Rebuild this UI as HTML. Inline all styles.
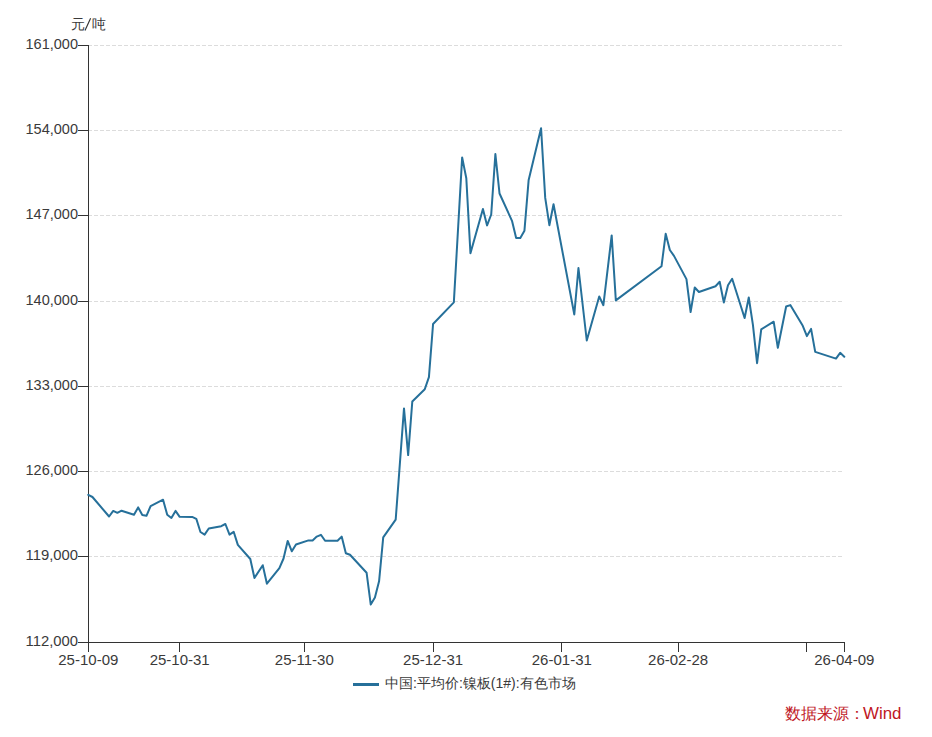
<!DOCTYPE html>
<html><head><meta charset="utf-8"><style>
html,body{margin:0;padding:0;background:#fff;width:932px;height:737px;overflow:hidden}
svg{display:block}
text{font-family:"Liberation Sans",sans-serif;fill:#3a3a3a}
.g{stroke:#dcdcdc;stroke-width:1;stroke-dasharray:4 2}
.a{stroke:#333;stroke-width:1}
.yl{font-size:15px;text-anchor:end}
.xl{font-size:15px;text-anchor:middle}
.unit{font-size:14px}
.leg{font-size:14px}
.src{font-size:16px;fill:#c0171f}
</style></head><body>
<svg width="932" height="737" viewBox="0 0 932 737">
<line x1="88" x2="844" y1="45.5" y2="45.5" class="g"/><line x1="88" x2="844" y1="130.5" y2="130.5" class="g"/><line x1="88" x2="844" y1="215.5" y2="215.5" class="g"/><line x1="88" x2="844" y1="301.5" y2="301.5" class="g"/><line x1="88" x2="844" y1="386.5" y2="386.5" class="g"/><line x1="88" x2="844" y1="471.5" y2="471.5" class="g"/><line x1="88" x2="844" y1="556.5" y2="556.5" class="g"/>
<line x1="88.5" x2="88.5" y1="45" y2="642.5" class="a"/>
<line x1="88" x2="845" y1="642.5" y2="642.5" class="a"/>
<line x1="78" x2="88.5" y1="45.5" y2="45.5" class="a"/><line x1="78" x2="88.5" y1="130.5" y2="130.5" class="a"/><line x1="78" x2="88.5" y1="215.5" y2="215.5" class="a"/><line x1="78" x2="88.5" y1="301.5" y2="301.5" class="a"/><line x1="78" x2="88.5" y1="386.5" y2="386.5" class="a"/><line x1="78" x2="88.5" y1="471.5" y2="471.5" class="a"/><line x1="78" x2="88.5" y1="556.5" y2="556.5" class="a"/><line x1="78" x2="88.5" y1="642.5" y2="642.5" class="a"/><line x1="88.5" x2="88.5" y1="642" y2="652" class="a"/><line x1="179.5" x2="179.5" y1="642" y2="652" class="a"/><line x1="304.5" x2="304.5" y1="642" y2="652" class="a"/><line x1="433.5" x2="433.5" y1="642" y2="652" class="a"/><line x1="561.5" x2="561.5" y1="642" y2="652" class="a"/><line x1="678.5" x2="678.5" y1="642" y2="652" class="a"/><line x1="806.5" x2="806.5" y1="642" y2="652" class="a"/><line x1="844.5" x2="844.5" y1="642" y2="652" class="a"/><text x="78" y="49.0" class="yl" textLength="52.5" lengthAdjust="spacingAndGlyphs">161,000</text><text x="78" y="134.0" class="yl" textLength="52.5" lengthAdjust="spacingAndGlyphs">154,000</text><text x="78" y="219.0" class="yl" textLength="52.5" lengthAdjust="spacingAndGlyphs">147,000</text><text x="78" y="305.0" class="yl" textLength="52.5" lengthAdjust="spacingAndGlyphs">140,000</text><text x="78" y="390.0" class="yl" textLength="52.5" lengthAdjust="spacingAndGlyphs">133,000</text><text x="78" y="475.0" class="yl" textLength="52.5" lengthAdjust="spacingAndGlyphs">126,000</text><text x="78" y="560.0" class="yl" textLength="52.5" lengthAdjust="spacingAndGlyphs">119,000</text><text x="78" y="646.0" class="yl" textLength="52.5" lengthAdjust="spacingAndGlyphs">112,000</text><text x="88.3" y="665" class="xl">25-10-09</text><text x="179.7" y="665" class="xl">25-10-31</text><text x="304.3" y="665" class="xl">25-11-30</text><text x="433.1" y="665" class="xl">25-12-31</text><text x="561.8" y="665" class="xl">26-01-31</text><text x="678.1" y="665" class="xl">26-02-28</text><text x="844.3" y="665" class="xl">26-04-09</text>
<text x="71" y="29" class="unit">元</text><line x1="90.6" y1="18.2" x2="85" y2="30.6" stroke="#333" stroke-width="1.15"/><text x="91.5" y="29" class="unit">吨</text>
<polyline points="88.30,494.80 92.45,497.00 109.07,516.50 113.22,510.90 117.38,512.80 121.53,510.70 133.99,514.80 138.15,507.40 142.30,514.90 146.45,515.80 150.61,506.10 163.07,499.70 167.22,514.80 171.38,518.00 175.53,510.90 179.68,516.80 192.15,516.90 196.30,518.80 200.45,532.00 204.61,534.60 208.76,528.50 221.22,526.20 225.38,524.00 229.53,534.60 233.68,531.80 237.84,544.90 250.30,559.00 254.45,578.00 262.76,565.20 266.92,583.70 279.38,568.20 283.53,558.50 287.68,540.90 291.84,551.30 295.99,544.50 308.45,540.40 312.61,540.40 316.76,536.60 320.92,534.80 325.07,540.80 337.53,540.80 341.68,536.60 345.84,553.30 349.99,554.80 366.61,572.80 370.76,604.60 374.92,597.50 379.07,581.30 383.22,537.40 395.68,519.70 403.99,408.40 408.15,455.10 412.30,401.50 424.76,389.30 428.92,377.10 433.07,324.00 453.84,302.40 462.15,157.40 466.30,178.30 470.45,253.30 482.92,209.00 487.07,225.40 491.22,214.50 495.38,154.00 499.53,193.50 511.99,220.80 516.15,238.00 520.30,238.00 524.45,230.70 528.61,180.30 541.07,128.20 545.22,197.90 549.38,225.20 553.53,204.30 574.30,314.50 578.45,268.00 586.76,340.50 599.22,296.40 603.38,305.20 611.68,235.40 615.84,300.40 661.53,266.20 665.68,233.80 669.84,250.00 673.99,255.90 686.45,279.10 690.61,312.00 694.76,287.50 698.92,292.00 715.53,286.20 719.68,281.70 723.84,302.50 727.99,285.20 732.15,278.80 744.61,318.00 748.76,297.50 752.92,324.80 757.07,363.20 761.22,329.30 773.68,321.70 777.84,347.80 786.15,306.50 790.30,305.10 802.76,325.80 806.92,336.10 811.07,328.90 815.22,351.90 835.99,358.60 840.15,352.80 844.30,356.80" fill="none" stroke="#26709a" stroke-width="2" stroke-linejoin="round" stroke-linecap="round"/>
<line x1="353" x2="379" y1="684.5" y2="684.5" stroke="#26709a" stroke-width="3"/>
<text x="385" y="688" class="leg">中国:平均价:镍板(1#):有色市场</text>
<text x="785" y="719" class="src">数据来源：</text><text x="863" y="719" class="src" textLength="38.5" lengthAdjust="spacingAndGlyphs">Wind</text>
</svg>
</body></html>
